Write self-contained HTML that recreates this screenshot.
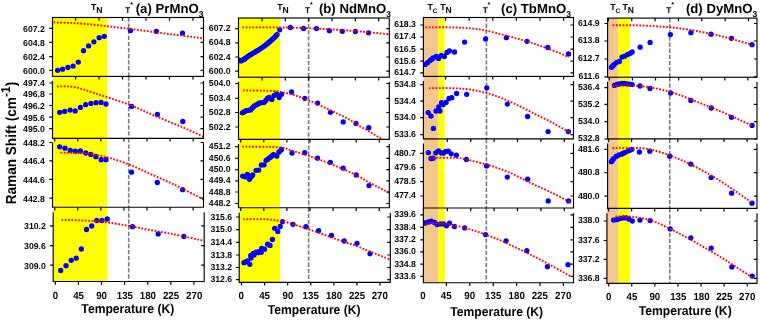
<!DOCTYPE html><html><head><meta charset="utf-8"><style>html,body{margin:0;padding:0;background:#fff;width:760px;height:321px;overflow:hidden}svg{display:block;will-change:transform}text{font-family:"Liberation Sans",sans-serif;font-weight:bold;fill:#000;text-rendering:geometricPrecision}</style></head><body>
<svg width="760" height="321" viewBox="0 0 760 321">
<rect width="760" height="321" fill="#fff"/>
<clipPath id="c00"><rect x="52.50" y="17.50" width="151.00" height="58.90"/></clipPath>
<clipPath id="c01"><rect x="52.50" y="76.40" width="151.00" height="61.90"/></clipPath>
<clipPath id="c02"><rect x="52.50" y="138.30" width="151.00" height="68.95"/></clipPath>
<clipPath id="c03"><rect x="53.20" y="207.25" width="151.00" height="74.25"/></clipPath>
<clipPath id="c10"><rect x="238.50" y="18.00" width="150.80" height="59.25"/></clipPath>
<clipPath id="c11"><rect x="238.50" y="77.25" width="150.80" height="62.15"/></clipPath>
<clipPath id="c12"><rect x="238.50" y="139.40" width="150.80" height="68.30"/></clipPath>
<clipPath id="c13"><rect x="239.20" y="207.70" width="151.10" height="74.60"/></clipPath>
<clipPath id="c20"><rect x="423.40" y="17.50" width="150.10" height="58.90"/></clipPath>
<clipPath id="c21"><rect x="423.40" y="76.40" width="150.10" height="62.50"/></clipPath>
<clipPath id="c22"><rect x="423.40" y="138.90" width="150.10" height="69.10"/></clipPath>
<clipPath id="c23"><rect x="423.40" y="208.00" width="150.10" height="74.75"/></clipPath>
<clipPath id="c30"><rect x="607.60" y="18.10" width="149.40" height="59.15"/></clipPath>
<clipPath id="c31"><rect x="607.60" y="77.25" width="149.40" height="61.65"/></clipPath>
<clipPath id="c32"><rect x="607.60" y="138.90" width="149.40" height="69.40"/></clipPath>
<clipPath id="c33"><rect x="606.90" y="208.30" width="150.10" height="75.10"/></clipPath>
<g clip-path="url(#c00)"><rect x="52.50" y="17.50" width="54.70" height="58.90" fill="#FFFF00"/><line x1="128.70" y1="17.50" x2="128.70" y2="76.40" stroke="#7a7a7a" stroke-width="1.6" stroke-dasharray="4.3 1.8"/><circle cx="57.60" cy="70.30" r="2.65" fill="#0000FF"/><circle cx="62.60" cy="69.20" r="2.65" fill="#0000FF"/><circle cx="67.90" cy="67.50" r="2.65" fill="#0000FF"/><circle cx="73.10" cy="66.10" r="2.65" fill="#0000FF"/><circle cx="78.30" cy="62.10" r="2.65" fill="#0000FF"/><circle cx="83.50" cy="50.70" r="2.65" fill="#0000FF"/><circle cx="88.60" cy="45.90" r="2.65" fill="#0000FF"/><circle cx="93.90" cy="41.80" r="2.65" fill="#0000FF"/><circle cx="99.20" cy="37.70" r="2.65" fill="#0000FF"/><circle cx="104.30" cy="36.30" r="2.65" fill="#0000FF"/><circle cx="130.60" cy="30.60" r="2.65" fill="#0000FF"/><circle cx="156.40" cy="31.30" r="2.65" fill="#0000FF"/><circle cx="182.50" cy="33.10" r="2.65" fill="#0000FF"/><path d="M53.60,22.40 C56.67,22.50 65.60,22.63 72.00,23.00 C78.40,23.37 85.33,23.97 92.00,24.60 C98.67,25.23 105.33,26.03 112.00,26.80 C118.67,27.57 125.33,28.37 132.00,29.20 C138.67,30.03 145.33,30.93 152.00,31.80 C158.67,32.67 165.33,33.55 172.00,34.40 C178.67,35.25 186.67,36.25 192.00,36.90 C197.33,37.55 202.00,38.07 204.00,38.30" fill="none" stroke="#FF0000" stroke-width="1.9" stroke-dasharray="1.8 1.55"/></g>
<g clip-path="url(#c01)"><rect x="52.50" y="76.40" width="54.70" height="61.90" fill="#FFFF00"/><line x1="128.70" y1="76.40" x2="128.70" y2="138.30" stroke="#7a7a7a" stroke-width="1.6" stroke-dasharray="4.3 1.8"/><circle cx="59.70" cy="112.30" r="2.65" fill="#0000FF"/><circle cx="64.70" cy="111.40" r="2.65" fill="#0000FF"/><circle cx="70.10" cy="110.10" r="2.65" fill="#0000FF"/><circle cx="75.10" cy="110.90" r="2.65" fill="#0000FF"/><circle cx="80.40" cy="107.40" r="2.65" fill="#0000FF"/><circle cx="85.60" cy="104.70" r="2.65" fill="#0000FF"/><circle cx="90.90" cy="103.40" r="2.65" fill="#0000FF"/><circle cx="96.00" cy="102.70" r="2.65" fill="#0000FF"/><circle cx="101.00" cy="102.40" r="2.65" fill="#0000FF"/><circle cx="106.00" cy="104.00" r="2.65" fill="#0000FF"/><circle cx="131.60" cy="106.40" r="2.65" fill="#0000FF"/><circle cx="157.40" cy="114.40" r="2.65" fill="#0000FF"/><circle cx="182.80" cy="121.50" r="2.65" fill="#0000FF"/><path d="M57.00,86.50 C59.17,86.50 65.83,86.08 70.00,86.50 C74.17,86.92 78.33,88.02 82.00,89.00 C85.67,89.98 88.17,91.15 92.00,92.40 C95.83,93.65 98.42,94.30 105.00,96.50 C111.58,98.70 122.93,102.27 131.50,105.60 C140.07,108.93 147.83,112.87 156.40,116.50 C164.97,120.13 174.97,124.00 182.90,127.40 C190.83,130.80 200.48,135.32 204.00,136.90" fill="none" stroke="#FF0000" stroke-width="1.9" stroke-dasharray="1.8 1.55"/></g>
<g clip-path="url(#c02)"><rect x="52.50" y="138.30" width="54.50" height="68.95" fill="#FFFF00"/><line x1="128.70" y1="138.30" x2="128.70" y2="207.25" stroke="#7a7a7a" stroke-width="1.6" stroke-dasharray="4.3 1.8"/><circle cx="59.70" cy="146.80" r="2.65" fill="#0000FF"/><circle cx="65.00" cy="148.20" r="2.65" fill="#0000FF"/><circle cx="70.30" cy="150.30" r="2.65" fill="#0000FF"/><circle cx="75.30" cy="151.20" r="2.65" fill="#0000FF"/><circle cx="80.40" cy="151.00" r="2.65" fill="#0000FF"/><circle cx="85.70" cy="153.00" r="2.65" fill="#0000FF"/><circle cx="90.80" cy="154.40" r="2.65" fill="#0000FF"/><circle cx="95.90" cy="156.70" r="2.65" fill="#0000FF"/><circle cx="101.20" cy="159.70" r="2.65" fill="#0000FF"/><circle cx="106.00" cy="159.70" r="2.65" fill="#0000FF"/><circle cx="131.50" cy="172.20" r="2.65" fill="#0000FF"/><circle cx="157.30" cy="182.50" r="2.65" fill="#0000FF"/><circle cx="182.60" cy="189.70" r="2.65" fill="#0000FF"/><path d="M60.40,152.60 C64.88,152.75 79.23,152.63 87.30,153.50 C95.37,154.37 101.63,155.90 108.80,157.80 C115.97,159.70 123.13,162.10 130.30,164.90 C137.47,167.70 144.63,171.38 151.80,174.60 C158.97,177.82 164.70,180.08 173.30,184.20 C181.90,188.32 198.38,196.78 203.40,199.30" fill="none" stroke="#FF0000" stroke-width="1.9" stroke-dasharray="1.8 1.55"/></g>
<g clip-path="url(#c03)"><rect x="53.20" y="207.25" width="54.30" height="74.25" fill="#FFFF00"/><line x1="128.70" y1="207.25" x2="128.70" y2="281.50" stroke="#7a7a7a" stroke-width="1.6" stroke-dasharray="4.3 1.8"/><circle cx="60.70" cy="270.50" r="2.65" fill="#0000FF"/><circle cx="66.00" cy="265.70" r="2.65" fill="#0000FF"/><circle cx="71.20" cy="260.30" r="2.65" fill="#0000FF"/><circle cx="76.20" cy="258.20" r="2.65" fill="#0000FF"/><circle cx="81.30" cy="249.00" r="2.65" fill="#0000FF"/><circle cx="86.50" cy="229.50" r="2.65" fill="#0000FF"/><circle cx="91.70" cy="226.00" r="2.65" fill="#0000FF"/><circle cx="96.80" cy="220.50" r="2.65" fill="#0000FF"/><circle cx="102.00" cy="220.50" r="2.65" fill="#0000FF"/><circle cx="107.30" cy="219.00" r="2.65" fill="#0000FF"/><circle cx="132.50" cy="226.70" r="2.65" fill="#0000FF"/><circle cx="158.20" cy="233.90" r="2.65" fill="#0000FF"/><circle cx="183.90" cy="236.40" r="2.65" fill="#0000FF"/><path d="M61.50,219.90 C64.32,219.97 71.70,220.00 78.40,220.30 C85.10,220.60 93.92,220.88 101.70,221.70 C109.48,222.52 117.30,223.87 125.10,225.20 C132.90,226.53 140.72,228.25 148.50,229.70 C156.28,231.15 162.47,232.03 171.80,233.90 C181.13,235.77 199.05,239.73 204.50,240.90" fill="none" stroke="#FF0000" stroke-width="1.9" stroke-dasharray="1.8 1.55"/></g>
<g clip-path="url(#c10)"><rect x="238.50" y="18.00" width="41.50" height="59.25" fill="#FFFF00"/><line x1="308.60" y1="18.00" x2="308.60" y2="77.25" stroke="#7a7a7a" stroke-width="1.6" stroke-dasharray="4.3 1.8"/><circle cx="238.50" cy="59.80" r="2.65" fill="#0000FF"/><circle cx="242.00" cy="60.50" r="2.65" fill="#0000FF"/><circle cx="243.60" cy="59.40" r="2.65" fill="#0000FF"/><circle cx="245.20" cy="58.30" r="2.65" fill="#0000FF"/><circle cx="246.80" cy="57.20" r="2.65" fill="#0000FF"/><circle cx="248.40" cy="56.10" r="2.65" fill="#0000FF"/><circle cx="250.00" cy="55.00" r="2.65" fill="#0000FF"/><circle cx="251.60" cy="54.06" r="2.65" fill="#0000FF"/><circle cx="253.20" cy="53.12" r="2.65" fill="#0000FF"/><circle cx="254.80" cy="52.18" r="2.65" fill="#0000FF"/><circle cx="256.40" cy="51.24" r="2.65" fill="#0000FF"/><circle cx="258.00" cy="50.30" r="2.65" fill="#0000FF"/><circle cx="259.50" cy="49.30" r="2.65" fill="#0000FF"/><circle cx="261.00" cy="48.30" r="2.65" fill="#0000FF"/><circle cx="262.50" cy="47.30" r="2.65" fill="#0000FF"/><circle cx="264.00" cy="46.30" r="2.65" fill="#0000FF"/><circle cx="265.50" cy="45.10" r="2.65" fill="#0000FF"/><circle cx="267.00" cy="43.90" r="2.65" fill="#0000FF"/><circle cx="268.50" cy="42.70" r="2.65" fill="#0000FF"/><circle cx="270.00" cy="41.50" r="2.65" fill="#0000FF"/><circle cx="271.50" cy="40.10" r="2.65" fill="#0000FF"/><circle cx="273.00" cy="38.70" r="2.65" fill="#0000FF"/><circle cx="274.50" cy="37.30" r="2.65" fill="#0000FF"/><circle cx="275.75" cy="35.95" r="2.65" fill="#0000FF"/><circle cx="277.00" cy="34.60" r="2.65" fill="#0000FF"/><circle cx="240.50" cy="60.90" r="2.65" fill="#0000FF"/><circle cx="244.50" cy="59.30" r="2.65" fill="#0000FF"/><circle cx="279.70" cy="29.80" r="2.65" fill="#0000FF"/><circle cx="290.40" cy="27.50" r="2.65" fill="#0000FF"/><circle cx="303.60" cy="28.40" r="2.65" fill="#0000FF"/><circle cx="316.50" cy="28.60" r="2.65" fill="#0000FF"/><circle cx="329.40" cy="30.70" r="2.65" fill="#0000FF"/><circle cx="342.30" cy="31.30" r="2.65" fill="#0000FF"/><circle cx="355.40" cy="31.50" r="2.65" fill="#0000FF"/><circle cx="368.50" cy="32.80" r="2.65" fill="#0000FF"/><path d="M242.40,27.40 C248.33,27.40 267.07,27.27 278.00,27.40 C288.93,27.53 298.00,27.80 308.00,28.20 C318.00,28.60 328.00,29.13 338.00,29.80 C348.00,30.47 359.33,31.43 368.00,32.20 C376.67,32.97 386.33,34.03 390.00,34.40" fill="none" stroke="#FF0000" stroke-width="1.9" stroke-dasharray="1.8 1.55"/></g>
<g clip-path="url(#c11)"><rect x="238.50" y="77.25" width="41.50" height="62.15" fill="#FFFF00"/><line x1="308.60" y1="77.25" x2="308.60" y2="139.40" stroke="#7a7a7a" stroke-width="1.6" stroke-dasharray="4.3 1.8"/><circle cx="242.40" cy="112.80" r="2.65" fill="#0000FF"/><circle cx="244.30" cy="111.75" r="2.65" fill="#0000FF"/><circle cx="246.20" cy="110.70" r="2.65" fill="#0000FF"/><circle cx="248.35" cy="110.30" r="2.65" fill="#0000FF"/><circle cx="250.50" cy="109.90" r="2.65" fill="#0000FF"/><circle cx="251.80" cy="108.57" r="2.65" fill="#0000FF"/><circle cx="253.10" cy="107.23" r="2.65" fill="#0000FF"/><circle cx="254.40" cy="105.90" r="2.65" fill="#0000FF"/><circle cx="256.20" cy="104.90" r="2.65" fill="#0000FF"/><circle cx="258.00" cy="103.90" r="2.65" fill="#0000FF"/><circle cx="259.80" cy="102.90" r="2.65" fill="#0000FF"/><circle cx="262.00" cy="102.60" r="2.65" fill="#0000FF"/><circle cx="264.20" cy="102.30" r="2.65" fill="#0000FF"/><circle cx="265.80" cy="100.40" r="2.65" fill="#0000FF"/><circle cx="267.40" cy="98.50" r="2.65" fill="#0000FF"/><circle cx="269.10" cy="97.30" r="2.65" fill="#0000FF"/><circle cx="271.80" cy="99.40" r="2.65" fill="#0000FF"/><circle cx="274.00" cy="95.60" r="2.65" fill="#0000FF"/><circle cx="276.70" cy="93.90" r="2.65" fill="#0000FF"/><circle cx="279.20" cy="97.60" r="2.65" fill="#0000FF"/><circle cx="281.60" cy="94.30" r="2.65" fill="#0000FF"/><circle cx="291.60" cy="92.00" r="2.65" fill="#0000FF"/><circle cx="304.80" cy="98.30" r="2.65" fill="#0000FF"/><circle cx="317.60" cy="103.10" r="2.65" fill="#0000FF"/><circle cx="330.40" cy="112.30" r="2.65" fill="#0000FF"/><circle cx="343.20" cy="121.90" r="2.65" fill="#0000FF"/><circle cx="356.00" cy="123.40" r="2.65" fill="#0000FF"/><circle cx="368.80" cy="127.70" r="2.65" fill="#0000FF"/><path d="M243.00,90.40 C248.17,90.50 266.50,90.50 274.00,91.00 C281.50,91.50 283.67,92.40 288.00,93.40 C292.33,94.40 296.08,95.63 300.00,97.00 C303.92,98.37 307.37,99.83 311.50,101.60 C315.63,103.37 320.38,105.55 324.80,107.60 C329.22,109.65 333.97,111.93 338.00,113.90 C342.03,115.87 345.55,117.47 349.00,119.40 C352.45,121.33 355.42,123.55 358.70,125.50 C361.98,127.45 365.37,129.15 368.70,131.10 C372.03,133.05 375.15,135.13 378.70,137.20 C382.25,139.27 388.12,142.45 390.00,143.50" fill="none" stroke="#FF0000" stroke-width="1.9" stroke-dasharray="1.8 1.55"/></g>
<g clip-path="url(#c12)"><rect x="238.50" y="139.40" width="41.50" height="68.30" fill="#FFFF00"/><line x1="308.70" y1="139.40" x2="308.70" y2="207.70" stroke="#7a7a7a" stroke-width="1.6" stroke-dasharray="4.3 1.8"/><circle cx="242.70" cy="176.10" r="2.65" fill="#0000FF"/><circle cx="245.00" cy="176.80" r="2.65" fill="#0000FF"/><circle cx="247.40" cy="174.30" r="2.65" fill="#0000FF"/><circle cx="249.40" cy="179.30" r="2.65" fill="#0000FF"/><circle cx="251.00" cy="177.00" r="2.65" fill="#0000FF"/><circle cx="252.70" cy="175.00" r="2.65" fill="#0000FF"/><circle cx="256.10" cy="170.30" r="2.65" fill="#0000FF"/><circle cx="258.70" cy="170.10" r="2.65" fill="#0000FF"/><circle cx="261.40" cy="165.00" r="2.65" fill="#0000FF"/><circle cx="264.10" cy="164.80" r="2.65" fill="#0000FF"/><circle cx="266.10" cy="160.30" r="2.65" fill="#0000FF"/><circle cx="268.00" cy="159.00" r="2.65" fill="#0000FF"/><circle cx="270.10" cy="157.40" r="2.65" fill="#0000FF"/><circle cx="272.00" cy="156.00" r="2.65" fill="#0000FF"/><circle cx="273.50" cy="154.70" r="2.65" fill="#0000FF"/><circle cx="276.80" cy="156.10" r="2.65" fill="#0000FF"/><circle cx="278.80" cy="152.20" r="2.65" fill="#0000FF"/><circle cx="280.20" cy="150.80" r="2.65" fill="#0000FF"/><circle cx="281.50" cy="149.40" r="2.65" fill="#0000FF"/><circle cx="292.00" cy="153.00" r="2.65" fill="#0000FF"/><circle cx="304.70" cy="152.70" r="2.65" fill="#0000FF"/><circle cx="317.50" cy="158.20" r="2.65" fill="#0000FF"/><circle cx="330.30" cy="162.40" r="2.65" fill="#0000FF"/><circle cx="343.20" cy="168.20" r="2.65" fill="#0000FF"/><circle cx="356.20" cy="174.90" r="2.65" fill="#0000FF"/><circle cx="369.00" cy="185.60" r="2.65" fill="#0000FF"/><path d="M242.20,146.60 C248.22,146.72 270.17,146.68 278.30,147.30 C286.43,147.92 285.35,148.68 291.00,150.30 C296.65,151.92 305.15,154.55 312.20,157.00 C319.25,159.45 326.25,162.13 333.30,165.00 C340.35,167.87 348.57,171.32 354.50,174.20 C360.43,177.08 363.07,179.17 368.90,182.30 C374.73,185.43 386.07,191.22 389.50,193.00" fill="none" stroke="#FF0000" stroke-width="1.9" stroke-dasharray="1.8 1.55"/></g>
<g clip-path="url(#c13)"><rect x="239.20" y="207.70" width="40.90" height="74.60" fill="#FFFF00"/><line x1="308.60" y1="207.70" x2="308.60" y2="282.30" stroke="#7a7a7a" stroke-width="1.6" stroke-dasharray="4.3 1.8"/><circle cx="243.90" cy="262.70" r="2.65" fill="#0000FF"/><circle cx="245.70" cy="261.85" r="2.65" fill="#0000FF"/><circle cx="247.50" cy="261.00" r="2.65" fill="#0000FF"/><circle cx="249.80" cy="264.30" r="2.65" fill="#0000FF"/><circle cx="251.00" cy="258.00" r="2.65" fill="#0000FF"/><circle cx="250.80" cy="255.50" r="2.65" fill="#0000FF"/><circle cx="253.40" cy="253.40" r="2.65" fill="#0000FF"/><circle cx="256.00" cy="252.20" r="2.65" fill="#0000FF"/><circle cx="258.80" cy="251.60" r="2.65" fill="#0000FF"/><circle cx="261.20" cy="252.30" r="2.65" fill="#0000FF"/><circle cx="254.10" cy="254.90" r="2.65" fill="#0000FF"/><circle cx="258.10" cy="252.70" r="2.65" fill="#0000FF"/><circle cx="261.70" cy="248.50" r="2.65" fill="#0000FF"/><circle cx="264.50" cy="249.20" r="2.65" fill="#0000FF"/><circle cx="267.60" cy="244.20" r="2.65" fill="#0000FF"/><circle cx="270.00" cy="245.40" r="2.65" fill="#0000FF"/><circle cx="272.40" cy="239.50" r="2.65" fill="#0000FF"/><circle cx="274.70" cy="228.30" r="2.65" fill="#0000FF"/><circle cx="277.80" cy="231.40" r="2.65" fill="#0000FF"/><circle cx="280.20" cy="226.40" r="2.65" fill="#0000FF"/><circle cx="282.50" cy="221.70" r="2.65" fill="#0000FF"/><circle cx="293.00" cy="224.30" r="2.65" fill="#0000FF"/><circle cx="306.00" cy="226.70" r="2.65" fill="#0000FF"/><circle cx="318.60" cy="230.70" r="2.65" fill="#0000FF"/><circle cx="331.50" cy="235.40" r="2.65" fill="#0000FF"/><circle cx="344.20" cy="241.00" r="2.65" fill="#0000FF"/><circle cx="357.00" cy="243.30" r="2.65" fill="#0000FF"/><circle cx="370.00" cy="253.80" r="2.65" fill="#0000FF"/><path d="M243.20,219.30 C247.07,219.30 259.37,218.85 266.40,219.30 C273.43,219.75 279.80,220.82 285.40,222.00 C291.00,223.18 294.53,224.63 300.00,226.40 C305.47,228.17 310.92,230.05 318.20,232.60 C325.48,235.15 337.25,239.47 343.70,241.70 C350.15,243.93 352.50,244.35 356.90,246.00 C361.30,247.65 364.57,249.33 370.10,251.60 C375.63,253.87 386.77,258.27 390.10,259.60" fill="none" stroke="#FF0000" stroke-width="1.9" stroke-dasharray="1.8 1.55"/></g>
<g clip-path="url(#c20)"><rect x="423.40" y="17.50" width="15.10" height="58.90" fill="#F2C68C"/><rect x="438.50" y="17.50" width="6.20" height="58.90" fill="#FFFF00"/><line x1="486.40" y1="17.50" x2="486.40" y2="76.40" stroke="#7a7a7a" stroke-width="1.6" stroke-dasharray="4.3 1.8"/><circle cx="425.10" cy="64.40" r="2.65" fill="#0000FF"/><circle cx="427.60" cy="62.70" r="2.65" fill="#0000FF"/><circle cx="430.20" cy="60.40" r="2.65" fill="#0000FF"/><circle cx="431.70" cy="59.20" r="2.65" fill="#0000FF"/><circle cx="433.20" cy="58.00" r="2.65" fill="#0000FF"/><circle cx="436.30" cy="56.50" r="2.65" fill="#0000FF"/><circle cx="438.60" cy="58.40" r="2.65" fill="#0000FF"/><circle cx="441.30" cy="55.50" r="2.65" fill="#0000FF"/><circle cx="444.40" cy="56.50" r="2.65" fill="#0000FF"/><circle cx="447.00" cy="52.40" r="2.65" fill="#0000FF"/><circle cx="449.40" cy="51.00" r="2.65" fill="#0000FF"/><circle cx="454.50" cy="52.00" r="2.65" fill="#0000FF"/><circle cx="464.60" cy="42.10" r="2.65" fill="#0000FF"/><circle cx="485.60" cy="39.00" r="2.65" fill="#0000FF"/><circle cx="506.40" cy="37.70" r="2.65" fill="#0000FF"/><circle cx="527.00" cy="41.30" r="2.65" fill="#0000FF"/><circle cx="547.80" cy="47.50" r="2.65" fill="#0000FF"/><circle cx="568.50" cy="53.90" r="2.65" fill="#0000FF"/><path d="M425.40,27.40 C430.00,27.40 445.07,27.20 453.00,27.40 C460.93,27.60 467.53,28.08 473.00,28.60 C478.47,29.12 480.38,29.37 485.80,30.50 C491.22,31.63 498.68,33.60 505.50,35.40 C512.32,37.20 519.63,39.10 526.70,41.30 C533.77,43.50 540.85,45.98 547.90,48.60 C554.95,51.22 565.48,55.60 569.00,57.00" fill="none" stroke="#FF0000" stroke-width="1.9" stroke-dasharray="1.8 1.55"/></g>
<g clip-path="url(#c21)"><rect x="423.40" y="76.40" width="15.00" height="62.50" fill="#F2C68C"/><rect x="438.40" y="76.40" width="6.30" height="62.50" fill="#FFFF00"/><line x1="486.50" y1="76.40" x2="486.50" y2="138.90" stroke="#7a7a7a" stroke-width="1.6" stroke-dasharray="4.3 1.8"/><circle cx="428.20" cy="112.60" r="2.65" fill="#0000FF"/><circle cx="431.00" cy="116.10" r="2.65" fill="#0000FF"/><circle cx="433.40" cy="128.40" r="2.65" fill="#0000FF"/><circle cx="436.10" cy="111.00" r="2.65" fill="#0000FF"/><circle cx="438.80" cy="107.00" r="2.65" fill="#0000FF"/><circle cx="440.00" cy="111.00" r="2.65" fill="#0000FF"/><circle cx="441.50" cy="102.70" r="2.65" fill="#0000FF"/><circle cx="443.20" cy="104.50" r="2.65" fill="#0000FF"/><circle cx="446.10" cy="102.40" r="2.65" fill="#0000FF"/><circle cx="449.00" cy="98.50" r="2.65" fill="#0000FF"/><circle cx="451.80" cy="97.70" r="2.65" fill="#0000FF"/><circle cx="456.60" cy="93.50" r="2.65" fill="#0000FF"/><circle cx="466.70" cy="94.30" r="2.65" fill="#0000FF"/><circle cx="486.80" cy="87.80" r="2.65" fill="#0000FF"/><circle cx="507.40" cy="104.10" r="2.65" fill="#0000FF"/><circle cx="527.60" cy="116.50" r="2.65" fill="#0000FF"/><circle cx="548.10" cy="131.60" r="2.65" fill="#0000FF"/><circle cx="568.40" cy="131.60" r="2.65" fill="#0000FF"/><path d="M429.00,88.20 C433.00,88.20 445.67,87.90 453.00,88.20 C460.33,88.50 466.33,88.87 473.00,90.00 C479.67,91.13 486.33,92.83 493.00,95.00 C499.67,97.17 506.33,100.00 513.00,103.00 C519.67,106.00 526.33,109.67 533.00,113.00 C539.67,116.33 546.92,119.77 553.00,123.00 C559.08,126.23 566.75,130.83 569.50,132.40" fill="none" stroke="#FF0000" stroke-width="1.9" stroke-dasharray="1.8 1.55"/></g>
<g clip-path="url(#c22)"><rect x="423.40" y="138.90" width="14.90" height="69.10" fill="#F2C68C"/><rect x="438.30" y="138.90" width="6.20" height="69.10" fill="#FFFF00"/><line x1="486.40" y1="138.90" x2="486.40" y2="208.00" stroke="#7a7a7a" stroke-width="1.6" stroke-dasharray="4.3 1.8"/><circle cx="428.40" cy="152.60" r="2.65" fill="#0000FF"/><circle cx="431.00" cy="158.50" r="2.65" fill="#0000FF"/><circle cx="433.10" cy="158.20" r="2.65" fill="#0000FF"/><circle cx="435.80" cy="152.80" r="2.65" fill="#0000FF"/><circle cx="438.50" cy="150.90" r="2.65" fill="#0000FF"/><circle cx="441.40" cy="152.90" r="2.65" fill="#0000FF"/><circle cx="443.60" cy="153.00" r="2.65" fill="#0000FF"/><circle cx="445.80" cy="151.50" r="2.65" fill="#0000FF"/><circle cx="448.40" cy="151.10" r="2.65" fill="#0000FF"/><circle cx="451.20" cy="153.80" r="2.65" fill="#0000FF"/><circle cx="456.40" cy="155.10" r="2.65" fill="#0000FF"/><circle cx="466.40" cy="159.40" r="2.65" fill="#0000FF"/><circle cx="486.60" cy="165.90" r="2.65" fill="#0000FF"/><circle cx="507.30" cy="177.10" r="2.65" fill="#0000FF"/><circle cx="527.70" cy="179.20" r="2.65" fill="#0000FF"/><circle cx="548.20" cy="200.90" r="2.65" fill="#0000FF"/><circle cx="568.60" cy="200.90" r="2.65" fill="#0000FF"/><path d="M429.50,157.90 C433.80,157.90 449.22,157.65 455.30,157.90 C461.38,158.15 460.63,158.25 466.00,159.40 C471.37,160.55 480.33,162.65 487.50,164.80 C494.67,166.95 501.83,169.27 509.00,172.30 C516.17,175.33 523.33,179.58 530.50,183.00 C537.67,186.42 545.50,189.67 552.00,192.80 C558.50,195.93 566.58,200.30 569.50,201.80" fill="none" stroke="#FF0000" stroke-width="1.9" stroke-dasharray="1.8 1.55"/></g>
<g clip-path="url(#c23)"><rect x="423.40" y="208.00" width="15.10" height="74.75" fill="#F2C68C"/><rect x="438.50" y="208.00" width="6.40" height="74.75" fill="#FFFF00"/><line x1="486.30" y1="208.00" x2="486.30" y2="282.75" stroke="#7a7a7a" stroke-width="1.6" stroke-dasharray="4.3 1.8"/><circle cx="425.40" cy="223.00" r="2.65" fill="#0000FF"/><circle cx="428.50" cy="221.90" r="2.65" fill="#0000FF"/><circle cx="431.30" cy="221.20" r="2.65" fill="#0000FF"/><circle cx="434.50" cy="222.40" r="2.65" fill="#0000FF"/><circle cx="437.10" cy="224.60" r="2.65" fill="#0000FF"/><circle cx="440.40" cy="223.90" r="2.65" fill="#0000FF"/><circle cx="443.50" cy="223.90" r="2.65" fill="#0000FF"/><circle cx="446.50" cy="225.80" r="2.65" fill="#0000FF"/><circle cx="449.50" cy="223.10" r="2.65" fill="#0000FF"/><circle cx="454.40" cy="226.50" r="2.65" fill="#0000FF"/><circle cx="464.70" cy="227.90" r="2.65" fill="#0000FF"/><circle cx="485.50" cy="234.60" r="2.65" fill="#0000FF"/><circle cx="506.10" cy="240.80" r="2.65" fill="#0000FF"/><circle cx="526.80" cy="250.70" r="2.65" fill="#0000FF"/><circle cx="547.40" cy="266.70" r="2.65" fill="#0000FF"/><circle cx="568.00" cy="264.70" r="2.65" fill="#0000FF"/><path d="M425.40,223.60 C428.95,223.67 439.20,223.02 446.70,224.00 C454.20,224.98 462.50,227.20 470.40,229.50 C478.30,231.80 486.20,234.63 494.10,237.80 C502.00,240.97 509.90,244.75 517.80,248.50 C525.70,252.25 532.82,255.73 541.50,260.30 C550.18,264.87 565.17,273.30 569.90,275.90" fill="none" stroke="#FF0000" stroke-width="1.9" stroke-dasharray="1.8 1.55"/></g>
<g clip-path="url(#c30)"><rect x="607.60" y="18.10" width="10.70" height="59.15" fill="#F2C68C"/><rect x="618.30" y="18.10" width="11.50" height="59.15" fill="#FFFF00"/><line x1="669.70" y1="18.10" x2="669.70" y2="77.25" stroke="#7a7a7a" stroke-width="1.6" stroke-dasharray="4.3 1.8"/><circle cx="611.50" cy="67.30" r="2.65" fill="#0000FF"/><circle cx="612.75" cy="65.95" r="2.65" fill="#0000FF"/><circle cx="614.00" cy="64.60" r="2.65" fill="#0000FF"/><circle cx="616.40" cy="62.60" r="2.65" fill="#0000FF"/><circle cx="619.30" cy="61.50" r="2.65" fill="#0000FF"/><circle cx="622.00" cy="57.10" r="2.65" fill="#0000FF"/><circle cx="624.70" cy="56.20" r="2.65" fill="#0000FF"/><circle cx="627.70" cy="54.40" r="2.65" fill="#0000FF"/><circle cx="630.20" cy="53.30" r="2.65" fill="#0000FF"/><circle cx="632.20" cy="51.90" r="2.65" fill="#0000FF"/><circle cx="640.10" cy="47.20" r="2.65" fill="#0000FF"/><circle cx="650.10" cy="42.40" r="2.65" fill="#0000FF"/><circle cx="670.40" cy="34.60" r="2.65" fill="#0000FF"/><circle cx="690.90" cy="32.70" r="2.65" fill="#0000FF"/><circle cx="711.00" cy="34.20" r="2.65" fill="#0000FF"/><circle cx="731.50" cy="38.30" r="2.65" fill="#0000FF"/><circle cx="752.00" cy="44.70" r="2.65" fill="#0000FF"/><path d="M612.60,25.30 C616.67,25.30 627.93,25.02 637.00,25.30 C646.07,25.58 658.67,26.32 667.00,27.00 C675.33,27.68 680.33,28.40 687.00,29.40 C693.67,30.40 700.33,31.63 707.00,33.00 C713.67,34.37 719.42,35.62 727.00,37.60 C734.58,39.58 748.25,43.68 752.50,44.90" fill="none" stroke="#FF0000" stroke-width="1.9" stroke-dasharray="1.8 1.55"/></g>
<g clip-path="url(#c31)"><rect x="607.60" y="77.25" width="10.80" height="61.65" fill="#F2C68C"/><rect x="618.40" y="77.25" width="11.30" height="61.65" fill="#FFFF00"/><line x1="669.80" y1="77.25" x2="669.80" y2="138.90" stroke="#7a7a7a" stroke-width="1.6" stroke-dasharray="4.3 1.8"/><circle cx="614.40" cy="85.40" r="2.65" fill="#0000FF"/><circle cx="616.80" cy="84.50" r="2.65" fill="#0000FF"/><circle cx="619.30" cy="83.80" r="2.65" fill="#0000FF"/><circle cx="621.80" cy="83.30" r="2.65" fill="#0000FF"/><circle cx="624.40" cy="83.40" r="2.65" fill="#0000FF"/><circle cx="626.90" cy="83.80" r="2.65" fill="#0000FF"/><circle cx="629.60" cy="84.10" r="2.65" fill="#0000FF"/><circle cx="632.20" cy="84.60" r="2.65" fill="#0000FF"/><circle cx="640.00" cy="86.00" r="2.65" fill="#0000FF"/><circle cx="650.00" cy="88.50" r="2.65" fill="#0000FF"/><circle cx="670.60" cy="93.00" r="2.65" fill="#0000FF"/><circle cx="690.90" cy="100.40" r="2.65" fill="#0000FF"/><circle cx="711.20" cy="108.00" r="2.65" fill="#0000FF"/><circle cx="731.50" cy="117.30" r="2.65" fill="#0000FF"/><circle cx="752.10" cy="125.40" r="2.65" fill="#0000FF"/><path d="M612.60,86.00 C616.67,86.00 629.60,85.57 637.00,86.00 C644.40,86.43 650.33,87.27 657.00,88.60 C663.67,89.93 670.33,91.80 677.00,94.00 C683.67,96.20 690.33,99.17 697.00,101.80 C703.67,104.43 710.33,107.00 717.00,109.80 C723.67,112.60 731.00,115.87 737.00,118.60 C743.00,121.33 750.33,124.93 753.00,126.20" fill="none" stroke="#FF0000" stroke-width="1.9" stroke-dasharray="1.8 1.55"/></g>
<g clip-path="url(#c32)"><rect x="607.60" y="138.90" width="10.60" height="69.40" fill="#F2C68C"/><rect x="618.20" y="138.90" width="11.60" height="69.40" fill="#FFFF00"/><line x1="669.70" y1="138.90" x2="669.70" y2="208.30" stroke="#7a7a7a" stroke-width="1.6" stroke-dasharray="4.3 1.8"/><circle cx="611.40" cy="161.70" r="2.65" fill="#0000FF"/><circle cx="612.50" cy="160.20" r="2.65" fill="#0000FF"/><circle cx="613.60" cy="158.70" r="2.65" fill="#0000FF"/><circle cx="616.20" cy="156.50" r="2.65" fill="#0000FF"/><circle cx="618.90" cy="155.00" r="2.65" fill="#0000FF"/><circle cx="622.00" cy="154.00" r="2.65" fill="#0000FF"/><circle cx="623.65" cy="153.15" r="2.65" fill="#0000FF"/><circle cx="625.30" cy="152.30" r="2.65" fill="#0000FF"/><circle cx="628.50" cy="150.80" r="2.65" fill="#0000FF"/><circle cx="630.20" cy="150.05" r="2.65" fill="#0000FF"/><circle cx="631.90" cy="149.30" r="2.65" fill="#0000FF"/><circle cx="639.40" cy="152.00" r="2.65" fill="#0000FF"/><circle cx="649.80" cy="151.20" r="2.65" fill="#0000FF"/><circle cx="669.70" cy="156.20" r="2.65" fill="#0000FF"/><circle cx="690.80" cy="164.10" r="2.65" fill="#0000FF"/><circle cx="711.20" cy="177.60" r="2.65" fill="#0000FF"/><circle cx="731.60" cy="193.20" r="2.65" fill="#0000FF"/><circle cx="752.00" cy="203.20" r="2.65" fill="#0000FF"/><path d="M612.40,148.20 C617.23,148.20 633.33,147.52 641.40,148.20 C649.47,148.88 653.98,150.25 660.80,152.30 C667.62,154.35 675.13,157.33 682.30,160.50 C689.47,163.67 696.63,167.35 703.80,171.30 C710.97,175.25 717.17,178.88 725.30,184.20 C733.43,189.52 748.05,200.03 752.60,203.20" fill="none" stroke="#FF0000" stroke-width="1.9" stroke-dasharray="1.8 1.55"/></g>
<g clip-path="url(#c33)"><rect x="606.90" y="208.30" width="11.50" height="75.10" fill="#F2C68C"/><rect x="618.40" y="208.30" width="11.50" height="75.10" fill="#FFFF00"/><line x1="669.80" y1="208.30" x2="669.80" y2="283.40" stroke="#7a7a7a" stroke-width="1.6" stroke-dasharray="4.3 1.8"/><circle cx="613.70" cy="220.10" r="2.65" fill="#0000FF"/><circle cx="617.10" cy="219.50" r="2.65" fill="#0000FF"/><circle cx="620.10" cy="218.60" r="2.65" fill="#0000FF"/><circle cx="623.30" cy="217.90" r="2.65" fill="#0000FF"/><circle cx="626.20" cy="217.90" r="2.65" fill="#0000FF"/><circle cx="629.20" cy="219.20" r="2.65" fill="#0000FF"/><circle cx="632.30" cy="221.00" r="2.65" fill="#0000FF"/><circle cx="639.90" cy="220.10" r="2.65" fill="#0000FF"/><circle cx="650.10" cy="220.60" r="2.65" fill="#0000FF"/><circle cx="670.20" cy="228.90" r="2.65" fill="#0000FF"/><circle cx="690.80" cy="237.80" r="2.65" fill="#0000FF"/><circle cx="711.20" cy="248.10" r="2.65" fill="#0000FF"/><circle cx="731.80" cy="266.90" r="2.65" fill="#0000FF"/><circle cx="752.20" cy="276.10" r="2.65" fill="#0000FF"/><path d="M615.40,216.40 C618.80,216.52 629.20,216.18 635.80,217.10 C642.40,218.02 647.80,219.18 655.00,221.90 C662.20,224.62 671.02,229.28 679.00,233.40 C686.98,237.52 694.92,242.00 702.90,246.60 C710.88,251.20 718.47,255.70 726.90,261.00 C735.33,266.30 749.07,275.50 753.50,278.40" fill="none" stroke="#FF0000" stroke-width="1.9" stroke-dasharray="1.8 1.55"/></g>
<rect x="52.50" y="17.50" width="151.00" height="58.90" fill="none" stroke="#000" stroke-width="1.15"/>
<path d="M52.50,80.90V138.30H203.50V80.90" fill="none" stroke="#000" stroke-width="1.15"/>
<path d="M52.50,142.80V207.25H203.50V142.80" fill="none" stroke="#000" stroke-width="1.15"/>
<path d="M53.20,212.25V281.50H204.20V212.25" fill="none" stroke="#000" stroke-width="1.15"/>
<path d="M49.30,28.30H52.50M200.50,28.30H203.50M49.30,42.40H52.50M200.50,42.40H203.50M49.30,56.60H52.50M200.50,56.60H203.50M49.30,70.30H52.50M200.50,70.30H203.50M49.30,83.00H52.50M200.50,83.00H203.50M49.30,94.00H52.50M200.50,94.00H203.50M49.30,105.50H52.50M200.50,105.50H203.50M49.30,117.20H52.50M200.50,117.20H203.50M49.30,128.60H52.50M200.50,128.60H203.50M49.30,142.50H52.50M200.50,142.50H203.50M49.30,160.90H52.50M200.50,160.90H203.50M49.30,179.30H52.50M200.50,179.30H203.50M49.30,198.20H52.50M200.50,198.20H203.50M50.00,225.80H53.20M201.20,225.80H204.20M50.00,245.60H53.20M201.20,245.60H204.20M50.00,265.10H53.20M201.20,265.10H204.20M75.58,17.50V20.70M99.06,17.50V20.70M122.54,17.50V20.70M146.02,17.50V20.70M169.50,17.50V20.70M192.98,17.50V20.70M75.58,76.40V79.60M99.06,76.40V79.60M122.54,76.40V79.60M146.02,76.40V79.60M169.50,76.40V79.60M192.98,76.40V79.60M54.70,138.30V141.50M77.78,138.30V141.50M100.86,138.30V141.50M123.94,138.30V141.50M147.02,138.30V141.50M170.10,138.30V141.50M193.18,138.30V141.50M54.70,207.25V210.45M77.78,207.25V210.45M100.86,207.25V210.45M123.94,207.25V210.45M147.02,207.25V210.45M170.10,207.25V210.45M193.18,207.25V210.45M55.30,281.50V284.70M78.40,281.50V284.70M101.50,281.50V284.70M124.60,281.50V284.70M147.70,281.50V284.70M170.80,281.50V284.70M193.90,281.50V284.70" stroke="#000" stroke-width="1.2" fill="none"/>
<text x="44.80" y="31.70" font-size="8.70" text-anchor="end">607.2</text>
<text x="44.80" y="45.80" font-size="8.70" text-anchor="end">604.8</text>
<text x="44.80" y="60.00" font-size="8.70" text-anchor="end">602.4</text>
<text x="44.80" y="73.70" font-size="8.70" text-anchor="end">600.0</text>
<text x="44.80" y="86.40" font-size="8.70" text-anchor="end">497.4</text>
<text x="44.80" y="97.40" font-size="8.70" text-anchor="end">496.8</text>
<text x="44.80" y="108.90" font-size="8.70" text-anchor="end">496.2</text>
<text x="44.80" y="120.60" font-size="8.70" text-anchor="end">495.6</text>
<text x="44.80" y="132.00" font-size="8.70" text-anchor="end">495.0</text>
<text x="44.80" y="145.90" font-size="8.70" text-anchor="end">448.2</text>
<text x="44.80" y="164.30" font-size="8.70" text-anchor="end">446.4</text>
<text x="44.80" y="182.70" font-size="8.70" text-anchor="end">444.6</text>
<text x="44.80" y="201.60" font-size="8.70" text-anchor="end">442.8</text>
<text x="45.80" y="229.20" font-size="8.70" text-anchor="end">310.2</text>
<text x="45.80" y="249.00" font-size="8.70" text-anchor="end">309.6</text>
<text x="45.80" y="268.50" font-size="8.70" text-anchor="end">309.0</text>
<text transform="translate(55.50,298.50) scale(1,1.06)" font-size="9.7" text-anchor="middle">0</text>
<text transform="translate(78.60,298.50) scale(1,1.06)" font-size="9.7" text-anchor="middle">45</text>
<text transform="translate(101.60,298.50) scale(1,1.06)" font-size="9.7" text-anchor="middle">90</text>
<text transform="translate(124.90,298.50) scale(1,1.06)" font-size="9.7" text-anchor="middle">135</text>
<text transform="translate(147.90,298.50) scale(1,1.06)" font-size="9.7" text-anchor="middle">180</text>
<text transform="translate(171.00,298.50) scale(1,1.06)" font-size="9.7" text-anchor="middle">225</text>
<text transform="translate(194.20,298.50) scale(1,1.06)" font-size="9.7" text-anchor="middle">270</text>
<text transform="translate(127.80,312.60) scale(1,1.06)" font-size="12.15" text-anchor="middle">Temperature (K)</text>
<text x="90.90" y="10.4" font-size="8.8">T</text>
<text x="96.20" y="13.2" font-size="8.6">N</text>
<text x="125.30" y="12.7" font-size="8.3">T</text>
<text x="130.20" y="6.8" font-size="7.2">*</text>
<text x="135.70" y="12.8" font-size="13.2">(a) PrMnO<tspan font-size="8.5" dy="3.8">3</tspan></text>
<rect x="238.50" y="18.00" width="150.80" height="59.25" fill="none" stroke="#000" stroke-width="1.15"/>
<path d="M238.50,81.75V139.40H389.30V81.75" fill="none" stroke="#000" stroke-width="1.15"/>
<path d="M238.50,143.90V207.70H389.30V143.90" fill="none" stroke="#000" stroke-width="1.15"/>
<path d="M239.20,212.70V282.30H390.30V212.70" fill="none" stroke="#000" stroke-width="1.15"/>
<path d="M235.30,28.70H238.50M386.30,28.70H389.30M235.30,42.80H238.50M386.30,42.80H389.30M235.30,57.00H238.50M386.30,57.00H389.30M235.30,71.20H238.50M386.30,71.20H389.30M235.30,83.50H238.50M386.30,83.50H389.30M235.30,98.40H238.50M386.30,98.40H389.30M235.30,112.50H238.50M386.30,112.50H389.30M235.30,127.00H238.50M386.30,127.00H389.30M235.30,146.70H238.50M386.30,146.70H389.30M235.30,158.40H238.50M386.30,158.40H389.30M235.30,169.60H238.50M386.30,169.60H389.30M235.30,180.80H238.50M386.30,180.80H389.30M235.30,192.00H238.50M386.30,192.00H389.30M235.30,203.50H238.50M386.30,203.50H389.30M236.00,217.00H239.20M387.30,217.00H390.30M236.00,229.60H239.20M387.30,229.60H390.30M236.00,242.40H239.20M387.30,242.40H390.30M236.00,255.00H239.20M387.30,255.00H390.30M236.00,267.50H239.20M387.30,267.50H390.30M236.00,279.60H239.20M387.30,279.60H390.30M262.03,18.00V21.20M285.36,18.00V21.20M308.69,18.00V21.20M332.02,18.00V21.20M355.35,18.00V21.20M378.68,18.00V21.20M262.03,77.25V80.45M285.36,77.25V80.45M308.69,77.25V80.45M332.02,77.25V80.45M355.35,77.25V80.45M378.68,77.25V80.45M240.70,139.40V142.60M263.80,139.40V142.60M286.90,139.40V142.60M310.00,139.40V142.60M333.10,139.40V142.60M356.20,139.40V142.60M379.30,139.40V142.60M240.70,207.70V210.90M263.80,207.70V210.90M286.90,207.70V210.90M310.00,207.70V210.90M333.10,207.70V210.90M356.20,207.70V210.90M379.30,207.70V210.90M241.50,282.30V285.50M264.58,282.30V285.50M287.66,282.30V285.50M310.74,282.30V285.50M333.82,282.30V285.50M356.90,282.30V285.50M379.98,282.30V285.50" stroke="#000" stroke-width="1.2" fill="none"/>
<text x="230.60" y="31.20" font-size="8.70" text-anchor="end">607.2</text>
<text x="230.60" y="45.30" font-size="8.70" text-anchor="end">604.8</text>
<text x="230.60" y="59.50" font-size="8.70" text-anchor="end">602.4</text>
<text x="230.60" y="73.70" font-size="8.70" text-anchor="end">600.0</text>
<text x="230.60" y="86.00" font-size="8.70" text-anchor="end">504.0</text>
<text x="230.60" y="100.90" font-size="8.70" text-anchor="end">503.4</text>
<text x="230.60" y="115.00" font-size="8.70" text-anchor="end">502.8</text>
<text x="230.60" y="129.50" font-size="8.70" text-anchor="end">502.2</text>
<text x="230.60" y="149.20" font-size="8.70" text-anchor="end">451.2</text>
<text x="230.60" y="160.90" font-size="8.70" text-anchor="end">450.6</text>
<text x="230.60" y="172.10" font-size="8.70" text-anchor="end">450.0</text>
<text x="230.60" y="183.30" font-size="8.70" text-anchor="end">449.4</text>
<text x="230.60" y="194.50" font-size="8.70" text-anchor="end">448.8</text>
<text x="230.60" y="206.00" font-size="8.70" text-anchor="end">448.2</text>
<text x="232.20" y="219.50" font-size="8.70" text-anchor="end">315.6</text>
<text x="232.20" y="232.10" font-size="8.70" text-anchor="end">315.0</text>
<text x="232.20" y="244.90" font-size="8.70" text-anchor="end">314.4</text>
<text x="232.20" y="257.50" font-size="8.70" text-anchor="end">313.8</text>
<text x="232.20" y="270.00" font-size="8.70" text-anchor="end">313.2</text>
<text x="232.20" y="282.10" font-size="8.70" text-anchor="end">312.6</text>
<text transform="translate(241.30,299.00) scale(1,1.06)" font-size="9.7" text-anchor="middle">0</text>
<text transform="translate(264.60,299.00) scale(1,1.06)" font-size="9.7" text-anchor="middle">45</text>
<text transform="translate(288.00,299.00) scale(1,1.06)" font-size="9.7" text-anchor="middle">90</text>
<text transform="translate(310.70,299.00) scale(1,1.06)" font-size="9.7" text-anchor="middle">135</text>
<text transform="translate(334.00,299.00) scale(1,1.06)" font-size="9.7" text-anchor="middle">180</text>
<text transform="translate(357.00,299.00) scale(1,1.06)" font-size="9.7" text-anchor="middle">225</text>
<text transform="translate(379.80,299.00) scale(1,1.06)" font-size="9.7" text-anchor="middle">270</text>
<text transform="translate(314.15,314.00) scale(1,1.06)" font-size="12.15" text-anchor="middle">Temperature (K)</text>
<text x="277.30" y="10.4" font-size="8.8">T</text>
<text x="282.60" y="13.2" font-size="8.6">N</text>
<text x="305.10" y="12.7" font-size="8.3">T</text>
<text x="310.00" y="6.8" font-size="7.2">*</text>
<text x="318.90" y="12.8" font-size="13.2">(b) NdMnO<tspan font-size="8.5" dy="3.8">3</tspan></text>
<rect x="423.40" y="17.50" width="150.10" height="58.90" fill="none" stroke="#000" stroke-width="1.15"/>
<path d="M423.40,80.90V138.90H573.50V80.90" fill="none" stroke="#000" stroke-width="1.15"/>
<path d="M423.40,143.40V208.00H573.50V143.40" fill="none" stroke="#000" stroke-width="1.15"/>
<path d="M423.40,208.00V282.75H573.50V213.00" fill="none" stroke="#000" stroke-width="1.15"/>
<path d="M420.20,25.00H423.40M570.50,25.00H573.50M420.20,37.00H423.40M570.50,37.00H573.50M420.20,49.10H423.40M570.50,49.10H573.50M420.20,61.20H423.40M570.50,61.20H573.50M420.20,72.90H423.40M570.50,72.90H573.50M420.20,84.70H423.40M570.50,84.70H573.50M420.20,101.20H423.40M570.50,101.20H573.50M420.20,117.60H423.40M570.50,117.60H573.50M420.20,134.70H423.40M570.50,134.70H573.50M420.20,153.30H423.40M570.50,153.30H573.50M420.20,167.60H423.40M570.50,167.60H573.50M420.20,181.70H423.40M570.50,181.70H573.50M420.20,196.00H423.40M570.50,196.00H573.50M420.20,214.80H423.40M570.50,214.80H573.50M420.20,227.40H423.40M570.50,227.40H573.50M420.20,239.80H423.40M570.50,239.80H573.50M420.20,251.80H423.40M570.50,251.80H573.50M420.20,264.20H423.40M570.50,264.20H573.50M420.20,276.40H423.40M570.50,276.40H573.50M445.60,17.50V20.70M469.20,17.50V20.70M492.80,17.50V20.70M516.40,17.50V20.70M540.00,17.50V20.70M563.60,17.50V20.70M445.60,76.40V79.60M469.20,76.40V79.60M492.80,76.40V79.60M516.40,76.40V79.60M540.00,76.40V79.60M563.60,76.40V79.60M447.30,138.90V142.10M470.70,138.90V142.10M494.10,138.90V142.10M517.50,138.90V142.10M540.90,138.90V142.10M564.30,138.90V142.10M447.30,208.00V211.20M470.70,208.00V211.20M494.10,208.00V211.20M517.50,208.00V211.20M540.90,208.00V211.20M564.30,208.00V211.20M446.40,282.75V285.95M469.80,282.75V285.95M493.20,282.75V285.95M516.60,282.75V285.95M540.00,282.75V285.95M563.40,282.75V285.95" stroke="#000" stroke-width="1.2" fill="none"/>
<text x="415.90" y="27.40" font-size="8.70" text-anchor="end">618.3</text>
<text x="415.90" y="39.40" font-size="8.70" text-anchor="end">617.4</text>
<text x="415.90" y="51.50" font-size="8.70" text-anchor="end">616.5</text>
<text x="415.90" y="63.60" font-size="8.70" text-anchor="end">615.6</text>
<text x="415.90" y="75.30" font-size="8.70" text-anchor="end">614.7</text>
<text x="415.90" y="87.10" font-size="8.70" text-anchor="end">534.8</text>
<text x="415.90" y="103.60" font-size="8.70" text-anchor="end">534.4</text>
<text x="415.90" y="120.00" font-size="8.70" text-anchor="end">534.0</text>
<text x="415.90" y="137.10" font-size="8.70" text-anchor="end">533.6</text>
<text x="415.90" y="155.70" font-size="8.70" text-anchor="end">480.7</text>
<text x="415.90" y="170.00" font-size="8.70" text-anchor="end">479.6</text>
<text x="415.90" y="184.10" font-size="8.70" text-anchor="end">478.5</text>
<text x="415.90" y="198.40" font-size="8.70" text-anchor="end">477.4</text>
<text x="415.90" y="217.20" font-size="8.70" text-anchor="end">339.6</text>
<text x="415.90" y="229.80" font-size="8.70" text-anchor="end">338.4</text>
<text x="415.90" y="242.20" font-size="8.70" text-anchor="end">337.2</text>
<text x="415.90" y="254.20" font-size="8.70" text-anchor="end">336.0</text>
<text x="415.90" y="266.60" font-size="8.70" text-anchor="end">334.8</text>
<text x="415.90" y="278.80" font-size="8.70" text-anchor="end">333.6</text>
<text transform="translate(423.00,299.20) scale(1,1.06)" font-size="9.7" text-anchor="middle">0</text>
<text transform="translate(446.20,299.20) scale(1,1.06)" font-size="9.7" text-anchor="middle">45</text>
<text transform="translate(469.70,299.20) scale(1,1.06)" font-size="9.7" text-anchor="middle">90</text>
<text transform="translate(493.20,299.20) scale(1,1.06)" font-size="9.7" text-anchor="middle">135</text>
<text transform="translate(516.70,299.20) scale(1,1.06)" font-size="9.7" text-anchor="middle">180</text>
<text transform="translate(539.80,299.20) scale(1,1.06)" font-size="9.7" text-anchor="middle">225</text>
<text transform="translate(563.20,299.20) scale(1,1.06)" font-size="9.7" text-anchor="middle">270</text>
<text transform="translate(496.70,315.60) scale(1,1.06)" font-size="12.15" text-anchor="middle">Temperature (K)</text>
<text x="427.40" y="10.4" font-size="8.8">T</text>
<text x="432.70" y="13.2" font-size="6.6">C</text>
<text x="440.30" y="10.4" font-size="8.8">T</text>
<text x="445.60" y="13.2" font-size="8.6">N</text>
<text x="482.70" y="12.7" font-size="8.3">T</text>
<text x="487.60" y="6.8" font-size="7.2">*</text>
<text x="501.00" y="12.8" font-size="13.2">(c) TbMnO<tspan font-size="8.5" dy="3.8">3</tspan></text>
<rect x="607.60" y="18.10" width="149.40" height="59.15" fill="none" stroke="#000" stroke-width="1.15"/>
<path d="M607.60,81.75V138.90H757.00V81.75" fill="none" stroke="#000" stroke-width="1.15"/>
<path d="M607.60,143.40V208.30H757.00V143.40" fill="none" stroke="#000" stroke-width="1.15"/>
<path d="M606.90,213.30V283.40H757.00V213.30" fill="none" stroke="#000" stroke-width="1.15"/>
<path d="M604.40,23.50H607.60M754.00,23.50H757.00M604.40,41.00H607.60M754.00,41.00H757.00M604.40,59.00H607.60M754.00,59.00H757.00M604.40,76.80H607.60M754.00,76.80H757.00M604.40,87.60H607.60M754.00,87.60H757.00M604.40,104.30H607.60M754.00,104.30H757.00M604.40,121.60H607.60M754.00,121.60H757.00M604.40,139.00H607.60M754.00,139.00H757.00M604.40,149.40H607.60M754.00,149.40H757.00M604.40,172.60H607.60M754.00,172.60H757.00M604.40,196.20H607.60M754.00,196.20H757.00M603.70,221.00H606.90M754.00,221.00H757.00M603.70,240.50H606.90M754.00,240.50H757.00M603.70,259.40H606.90M754.00,259.40H757.00M603.70,278.40H606.90M754.00,278.40H757.00M608.40,18.10V21.30M631.75,18.10V21.30M655.10,18.10V21.30M678.45,18.10V21.30M701.80,18.10V21.30M725.15,18.10V21.30M748.50,18.10V21.30M609.30,77.25V80.45M632.40,77.25V80.45M655.50,77.25V80.45M678.60,77.25V80.45M701.70,77.25V80.45M724.80,77.25V80.45M747.90,77.25V80.45M608.50,138.90V142.10M631.60,138.90V142.10M654.70,138.90V142.10M677.80,138.90V142.10M700.90,138.90V142.10M724.00,138.90V142.10M747.10,138.90V142.10M608.50,208.30V211.50M631.60,208.30V211.50M654.70,208.30V211.50M677.80,208.30V211.50M700.90,208.30V211.50M724.00,208.30V211.50M747.10,208.30V211.50M608.70,283.40V286.60M631.78,283.40V286.60M654.86,283.40V286.60M677.94,283.40V286.60M701.02,283.40V286.60M724.10,283.40V286.60M747.18,283.40V286.60" stroke="#000" stroke-width="1.2" fill="none"/>
<text x="599.70" y="25.80" font-size="8.70" text-anchor="end">614.9</text>
<text x="599.70" y="43.30" font-size="8.70" text-anchor="end">613.8</text>
<text x="599.70" y="61.30" font-size="8.70" text-anchor="end">612.7</text>
<text x="599.70" y="79.10" font-size="8.70" text-anchor="end">611.6</text>
<text x="599.70" y="89.90" font-size="8.70" text-anchor="end">536.4</text>
<text x="599.70" y="106.60" font-size="8.70" text-anchor="end">535.2</text>
<text x="599.70" y="123.90" font-size="8.70" text-anchor="end">534.0</text>
<text x="599.70" y="141.30" font-size="8.70" text-anchor="end">532.8</text>
<text x="599.70" y="151.70" font-size="8.70" text-anchor="end">481.6</text>
<text x="599.70" y="174.90" font-size="8.70" text-anchor="end">480.8</text>
<text x="599.70" y="198.50" font-size="8.70" text-anchor="end">480.0</text>
<text x="599.70" y="223.30" font-size="8.70" text-anchor="end">338.0</text>
<text x="599.70" y="242.80" font-size="8.70" text-anchor="end">337.6</text>
<text x="599.70" y="261.70" font-size="8.70" text-anchor="end">337.2</text>
<text x="599.70" y="280.70" font-size="8.70" text-anchor="end">336.8</text>
<text transform="translate(608.70,299.80) scale(1,1.06)" font-size="9.7" text-anchor="middle">0</text>
<text transform="translate(632.00,299.80) scale(1,1.06)" font-size="9.7" text-anchor="middle">45</text>
<text transform="translate(654.80,299.80) scale(1,1.06)" font-size="9.7" text-anchor="middle">90</text>
<text transform="translate(678.30,299.80) scale(1,1.06)" font-size="9.7" text-anchor="middle">135</text>
<text transform="translate(701.50,299.80) scale(1,1.06)" font-size="9.7" text-anchor="middle">180</text>
<text transform="translate(724.30,299.80) scale(1,1.06)" font-size="9.7" text-anchor="middle">225</text>
<text transform="translate(747.20,299.80) scale(1,1.06)" font-size="9.7" text-anchor="middle">270</text>
<text transform="translate(685.25,314.90) scale(1,1.06)" font-size="12.15" text-anchor="middle">Temperature (K)</text>
<text x="610.30" y="10.4" font-size="8.8">T</text>
<text x="615.60" y="13.2" font-size="6.6">C</text>
<text x="622.50" y="10.4" font-size="8.8">T</text>
<text x="627.80" y="13.2" font-size="8.6">N</text>
<text x="666.30" y="12.7" font-size="8.3">T</text>
<text x="671.20" y="6.8" font-size="7.2">*</text>
<text x="685.90" y="12.8" font-size="13.2">(d) DyMnO<tspan font-size="8.5" dy="3.8">3</tspan></text>
<text transform="translate(16.4,204.3) rotate(-90) scale(1,1.07)" font-size="13.6">Raman Shift (cm<tspan font-size="12" dy="-6">-1</tspan><tspan dy="6">)</tspan></text>
</svg></body></html>
